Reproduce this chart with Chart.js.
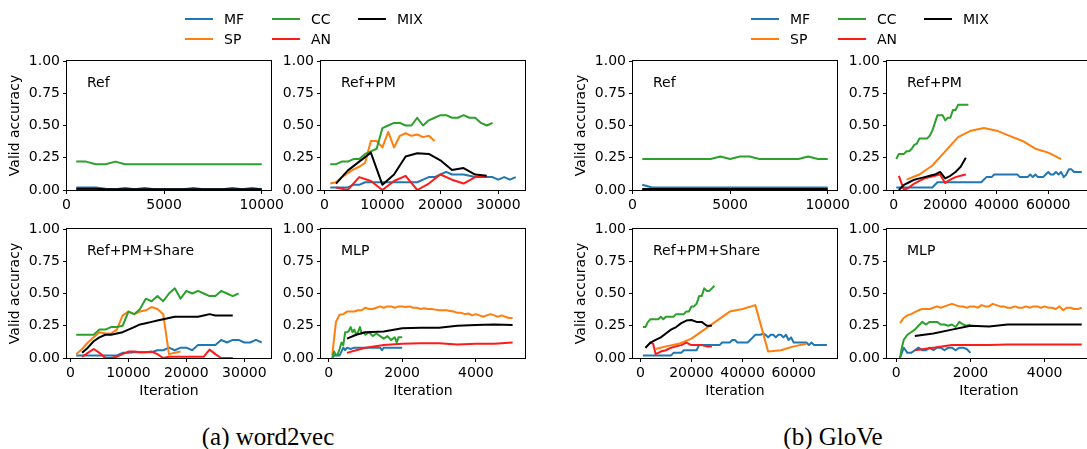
<!DOCTYPE html>
<html><head><meta charset="utf-8">
<script src="https://cdn.jsdelivr.net/npm/chart.js@4.4.0/dist/chart.umd.min.js"></script>
<style>
html,body{margin:0;padding:0;width:1087px;height:449px;overflow:hidden;background:#fff;position:relative;}
canvas{position:absolute;}
.lbl{position:absolute;font-family:'DejaVu Sans';font-size:14px;line-height:14px;color:#000;white-space:nowrap;}
.legline{position:absolute;height:2px;width:28px;}
.cap{position:absolute;font-family:'Liberation Serif';font-size:25px;line-height:25px;color:#000;white-space:nowrap;transform:translateX(-50%);}
</style></head><body>
<script>
// ---------- tick labels ----------
const yTicks = [0, 0.25, 0.5, 0.75, 1];
const xTicksRef = [0, 5000, 10000];
const xTicksW2vLong = [0, 10000, 20000, 30000];
const xTicksGloveLong = [0, 20000, 40000, 60000];
const xTicksMlp = [0, 2000, 4000];

// ---------- series names / colours ----------
const seriesNames = ['MF', 'SP', 'CC', 'AN', 'MIX'];
const seriesColors = {MF:'#1f77b4', SP:'#ff7f0e', CC:'#2ca02c', AN:'#ff1a1a', MIX:'#000000'};

// ---------- shared iteration grids ----------
const ref_x = [500,1000,1500,2000,2500,3000,3500,4000,4500,5000,5500,6000,6500,7000,7500,8000,8500,9000,9500,10000];
const k19_x = [1000,2000,3000,4000,5000,6000,7000,8000,9000,10000,11000,12000,13000,14000,15000,16000,17000,18000,19000];
const k29_x = [1000,2000,3000,4000,5000,6000,7000,8000,9000,10000,11000,12000,13000,14000,15000,16000,17000,18000,19000,20000,21000,22000,23000,24000,25000,26000,27000,28000,29000];
const k33_x = [1000,2000,3000,4000,5000,6000,7000,8000,9000,10000,11000,12000,13000,14000,15000,16000,17000,18000,19000,20000,21000,22000,23000,24000,25000,26000,27000,28000,29000,30000,31000,32000,33000];
const k2by2_x = [2000,4000,6000,8000,10000,12000,14000,16000,18000,20000,22000,24000,26000,28000];
const k2to28_x = [2000,3000,4000,5000,6000,7000,8000,9000,10000,11000,12000,13000,14000,15000,16000,17000,18000,19000,20000,21000,22000,23000,24000,25000,26000,27000,28000];
const mlp_x = [100,200,300,400,500,600,700,800,900,1000,1100,1200,1300,1400,1500,1600,1700,1800,1900,2000,2100,2200,2300,2400,2500,2600,2700,2800,2900,3000,3100,3200,3300,3400,3500,3600,3700,3800,3900,4000,4100,4200,4300,4400,4500,4600,4700,4800,4900,5000];

// ---------- (a) word2vec : Ref ----------
const w2v_ref_MF  = [0.02,0.02,0.02,0.01,0.005,0.015,0.005,0.015,0.005,0.005,0.005,0.005,0.015,0.005,0.005,0.005,0.015,0.005,0.015,0.005];
const w2v_ref_CC  = [0.22,0.22,0.20,0.20,0.22,0.20,0.20,0.20,0.20,0.20,0.20,0.20,0.20,0.20,0.20,0.20,0.20,0.20,0.20,0.20];
const w2v_ref_AN  = [0,0,0,0,0,0,0,0,0,0,0,0,0,0,0,0,0,0,0,0];
const w2v_ref_MIX = [0.01,0.01,0.01,0.005,0.005,0.005,0.005,0.005,0.005,0.005,0.005,0.005,0.005,0.005,0.005,0.005,0.005,0.005,0.005,0.005];

// ---------- (a) word2vec : Ref+PM ----------
const w2v_pm_MF  = [0.02,0.02,0.02,0.02,0.04,0.04,0.06,0.06,0.06,0.06,0.06,0.06,0.06,0.06,0.06,0.06,0.08,0.10,0.10,0.12,0.14,0.12,0.12,0.12,0.11,0.10,0.10,0.10,0.10,0.08,0.10,0.08,0.10];
const w2v_pm_SP  = [0.05,0.06,0.10,0.13,0.16,0.18,0.21,0.38,0.38,0.33,0.45,0.33,0.42,0.44,0.42,0.43,0.41,0.42,0.38];
const w2v_pm_CC  = [0.20,0.20,0.22,0.22,0.24,0.24,0.28,0.30,0.32,0.48,0.50,0.52,0.52,0.50,0.50,0.56,0.50,0.54,0.56,0.58,0.58,0.56,0.56,0.58,0.56,0.56,0.52,0.50,0.52];
const w2v_pm_AN  = [0.02,0.0,0.10,0.07,0.0,0.07,0.11,0.0,0.05,0.12,0.08,0.05,0.10,0.10];
const w2v_pm_MIX = [0.05,0.15,0.22,0.29,0.04,0.12,0.26,0.285,0.28,0.23,0.155,0.17,0.12,0.11];

// ---------- (a) word2vec : Ref+PM+Share ----------
const w2v_sh_MF  = [0.02,0.02,0.02,0.02,0.02,0.02,0.02,0.02,0.04,0.04,0.045,0.045,0.045,0.045,0.06,0.06,0.08,0.06,0.08,0.08,0.06,0.10,0.10,0.10,0.10,0.14,0.12,0.14,0.14,0.12,0.12,0.14,0.12];
const w2v_sh_SP  = [0.03,0.07,0.12,0.16,0.20,0.19,0.19,0.22,0.33,0.36,0.34,0.36,0.37,0.395,0.38,0.34,0.03,0.04,0.05];
const w2v_sh_CC  = [0.18,0.18,0.18,0.18,0.22,0.22,0.24,0.24,0.25,0.36,0.34,0.38,0.46,0.44,0.48,0.44,0.50,0.54,0.46,0.52,0.50,0.52,0.50,0.48,0.48,0.52,0.50,0.48,0.50];
const w2v_sh_AN  = [0.01,0.04,0.07,0.04,0.0,0.0,0.01,0.03,0.05,0.05,0.045,0.045,0.05,0.03,0.0,0.01,0.01,0.01,0.01,0.01,0.01,0.01,0.065,0.03,0.0,0.0,0.0];
const w2v_sh_MIX = [0.04,0.08,0.13,0.16,0.18,0.18,0.19,0.20,0.22,0.24,0.26,0.27,0.28,0.29,0.30,0.31,0.32,0.32,0.32,0.32,0.32,0.33,0.34,0.33,0.33,0.33,0.33];

// ---------- (a) word2vec : MLP ----------
const w2v_mlp_MF_x = [100,150,200,300,400,450,500,600,700,800,1000,1200,1400,1450,1500,1550,1700,2000];
const w2v_mlp_MF   = [0.0,0.02,0.02,0.02,0.08,0.06,0.08,0.07,0.08,0.08,0.08,0.08,0.08,0.06,0.08,0.08,0.08,0.08];
const w2v_mlp_SP   = [0.02,0.28,0.335,0.34,0.36,0.36,0.36,0.37,0.37,0.39,0.38,0.38,0.39,0.40,0.39,0.40,0.40,0.39,0.40,0.40,0.395,0.40,0.39,0.39,0.38,0.385,0.38,0.38,0.375,0.37,0.37,0.37,0.365,0.36,0.35,0.35,0.34,0.345,0.33,0.34,0.33,0.32,0.33,0.34,0.33,0.32,0.33,0.32,0.31,0.31];
const w2v_mlp_CC_x = [100,150,200,250,300,350,400,450,500,550,600,650,700,750,800,850,900,950,1000,1100,1200,1300,1400,1500,1600,1700,1800,1850,1900,2000];
const w2v_mlp_CC   = [0.0,0.05,0.02,0.03,0.07,0.12,0.10,0.20,0.20,0.21,0.24,0.20,0.22,0.18,0.20,0.24,0.19,0.20,0.18,0.20,0.17,0.19,0.17,0.15,0.17,0.14,0.16,0.12,0.16,0.16];
const w2v_mlp_x2   = [500,750,1000,1500,2000,2500,3000,3500,4000,4500,5000];
const w2v_mlp_AN   = [0.04,0.06,0.08,0.10,0.11,0.115,0.115,0.105,0.11,0.11,0.12];
const w2v_mlp_MIX  = [0.15,0.18,0.20,0.205,0.23,0.235,0.235,0.25,0.255,0.26,0.255];

// ---------- (b) GloVe : Ref ----------
const glove_ref_MF  = [0.04,0.02,0.02,0.02,0.02,0.02,0.02,0.02,0.02,0.02,0.02,0.02,0.02,0.02,0.02,0.02,0.02,0.02,0.02,0.02];
const glove_ref_CC  = [0.24,0.24,0.24,0.24,0.24,0.24,0.24,0.24,0.26,0.24,0.26,0.26,0.24,0.24,0.24,0.24,0.24,0.26,0.24,0.24];
const glove_ref_AN  = [0,0,0,0,0,0,0,0,0,0,0,0,0,0,0,0,0,0,0,0];
const glove_ref_MIX = [0.008,0.008,0.008,0.008,0.008,0.008,0.008,0.008,0.008,0.008,0.008,0.008,0.008,0.008,0.008,0.008,0.008,0.008,0.008,0.008];

// ---------- (b) GloVe : Ref+PM ----------
const glove_pm_MF_x = [1000,15000,17000,34000,36000,38000,39000,48000,49000,52000,53000,54000,55000,56000,58000,59000,60000,61000,62000,63000,64000,65000,66000,67000,68000,69000,70000,71000,73000];
const glove_pm_MF   = [0.02,0.02,0.06,0.06,0.10,0.10,0.12,0.12,0.10,0.10,0.12,0.10,0.12,0.10,0.10,0.12,0.14,0.12,0.12,0.14,0.12,0.14,0.10,0.12,0.16,0.16,0.14,0.14,0.14];
const glove_pm_SP_x = [5000,10000,15000,20000,25000,30000,35000,40000,45000,50000,55000,60000,65000];
const glove_pm_SP   = [0.08,0.12,0.19,0.30,0.41,0.46,0.48,0.46,0.42,0.38,0.32,0.29,0.24];
const glove_pm_CC   = [0.24,0.28,0.28,0.28,0.30,0.30,0.32,0.35,0.36,0.40,0.40,0.40,0.40,0.42,0.46,0.52,0.58,0.58,0.58,0.54,0.56,0.56,0.62,0.62,0.66,0.66,0.66,0.66,0.66];
const glove_pm_AN   = [0.11,0.0,0.02,0.05,0.07,0.09,0.10,0.11,0.12,0.055,0.08,0.10,0.11,0.12];
const glove_pm_MIX  = [0.0,0.04,0.06,0.08,0.09,0.10,0.11,0.12,0.14,0.09,0.11,0.14,0.18,0.25];

// ---------- (b) GloVe : Ref+PM+Share ----------
const glove_sh_MF_x = [1000,12000,13000,16000,17000,22000,23000,31000,32000,35000,36000,37000,38000,42000,43000,44000,45000,47000,48000,49000,50000,51000,52000,53000,54000,55000,56000,57000,58000,59000,60000,65000,66000,67000,68000,73000];
const glove_sh_MF   = [0.02,0.02,0.04,0.04,0.06,0.06,0.10,0.10,0.12,0.12,0.14,0.14,0.12,0.12,0.14,0.16,0.18,0.18,0.19,0.18,0.16,0.18,0.18,0.16,0.18,0.18,0.16,0.18,0.14,0.16,0.12,0.12,0.10,0.12,0.10,0.10];
const glove_sh_SP_x = [6000,10000,15000,20000,25000,30000,35000,40000,45000,50000,55000,60000,65000];
const glove_sh_SP   = [0.07,0.09,0.11,0.15,0.22,0.29,0.36,0.38,0.41,0.05,0.06,0.09,0.11];
const glove_sh_CC   = [0.24,0.24,0.28,0.30,0.30,0.30,0.30,0.32,0.30,0.32,0.32,0.32,0.32,0.34,0.34,0.34,0.34,0.36,0.36,0.40,0.40,0.42,0.48,0.48,0.54,0.52,0.52,0.54,0.56];
const glove_sh_AN_x = [2000,3000,4000,5000,6000,8000,10000,12000,14000,16000,18000,20000,22000,24000,26000,28000];
const glove_sh_AN   = [0.08,0.10,0.12,0.11,0.03,0.05,0.06,0.08,0.09,0.10,0.12,0.10,0.10,0.10,0.09,0.09];
const glove_sh_MIX_x = [2000,3000,4000,6000,8000,10000,12000,14000,16000,18000,20000,22000,24000,26000,28000];
const glove_sh_MIX   = [0.08,0.10,0.12,0.14,0.16,0.19,0.22,0.24,0.27,0.29,0.295,0.28,0.28,0.25,0.25];

// ---------- (b) GloVe : MLP ----------
const glove_mlp_MF_x = [100,150,200,250,300,400,500,600,700,800,900,1000,1100,1200,1300,1400,1500,1600,1700,1800,1900,2000];
const glove_mlp_MF   = [0.0,0.04,0.08,0.06,0.04,0.04,0.06,0.08,0.06,0.06,0.08,0.06,0.08,0.08,0.06,0.08,0.08,0.06,0.08,0.08,0.07,0.04];
const glove_mlp_SP   = [0.27,0.31,0.33,0.34,0.355,0.37,0.38,0.38,0.38,0.39,0.40,0.39,0.40,0.41,0.42,0.41,0.40,0.40,0.39,0.40,0.40,0.39,0.41,0.40,0.40,0.42,0.41,0.40,0.40,0.39,0.39,0.40,0.39,0.39,0.40,0.39,0.40,0.40,0.39,0.40,0.39,0.39,0.38,0.40,0.37,0.39,0.39,0.38,0.38,0.39];
const glove_mlp_CC_x = [100,150,200,300,400,500,600,700,800,900,1000,1100,1200,1300,1400,1500,1600,1700,1800,1900,2000];
const glove_mlp_CC   = [0.0,0.08,0.14,0.18,0.20,0.22,0.25,0.28,0.26,0.28,0.28,0.28,0.26,0.26,0.25,0.26,0.24,0.28,0.26,0.25,0.26];
const glove_mlp_x2   = [500,1000,1500,2000,2500,3000,3500,4000,4500,5000];
const glove_mlp_AN   = [0.06,0.08,0.10,0.10,0.10,0.105,0.105,0.105,0.105,0.105];
const glove_mlp_MIX  = [0.17,0.19,0.22,0.25,0.245,0.26,0.26,0.26,0.26,0.26];

// ---------- panels ----------
const PW = 204, PH = 129;
const panels = [
  {L:67,  T:61,  xmin:25,    xmax:10475, xt:xTicksRef,       title:'Ref',           ylab:true,  xlab:false,
   s:{MF:[ref_x,w2v_ref_MF], CC:[ref_x,w2v_ref_CC], AN:[ref_x,w2v_ref_AN], MIX:[ref_x,w2v_ref_MIX]}},
  {L:321, T:61,  xmin:-600,  xmax:34600, xt:xTicksW2vLong,   title:'Ref+PM',        ylab:false, xlab:false,
   s:{MF:[k33_x,w2v_pm_MF], SP:[k19_x,w2v_pm_SP], CC:[k29_x,w2v_pm_CC], AN:[k2by2_x,w2v_pm_AN], MIX:[k2by2_x,w2v_pm_MIX]}},
  {L:67,  T:229, xmin:-600,  xmax:34600, xt:xTicksW2vLong,   title:'Ref+PM+Share',  ylab:true,  xlab:true,
   s:{MF:[k33_x,w2v_sh_MF], SP:[k19_x,w2v_sh_SP], CC:[k29_x,w2v_sh_CC], AN:[k2to28_x,w2v_sh_AN], MIX:[k2to28_x,w2v_sh_MIX]}},
  {L:321, T:229, xmin:-206,  xmax:5337,  xt:xTicksMlp,       title:'MLP',           ylab:false, xlab:true,
   s:{MF:[w2v_mlp_MF_x,w2v_mlp_MF], SP:[mlp_x,w2v_mlp_SP], CC:[w2v_mlp_CC_x,w2v_mlp_CC], AN:[w2v_mlp_x2,w2v_mlp_AN], MIX:[w2v_mlp_x2,w2v_mlp_MIX]}},
  {L:633, T:61,  xmin:25,    xmax:10475, xt:xTicksRef,       title:'Ref',           ylab:true,  xlab:false,
   s:{MF:[ref_x,glove_ref_MF], CC:[ref_x,glove_ref_CC], AN:[ref_x,glove_ref_AN], MIX:[ref_x,glove_ref_MIX]}},
  {L:887, T:61,  xmin:-2600, xmax:76600, xt:xTicksGloveLong, title:'Ref+PM',        ylab:false, xlab:false,
   s:{MF:[glove_pm_MF_x,glove_pm_MF], SP:[glove_pm_SP_x,glove_pm_SP], CC:[k29_x,glove_pm_CC], AN:[k2by2_x,glove_pm_AN], MIX:[k2by2_x,glove_pm_MIX]}},
  {L:633, T:229, xmin:-2870, xmax:76950, xt:xTicksGloveLong, title:'Ref+PM+Share',  ylab:true,  xlab:true,
   s:{MF:[glove_sh_MF_x,glove_sh_MF], SP:[glove_sh_SP_x,glove_sh_SP], CC:[k29_x,glove_sh_CC], AN:[glove_sh_AN_x,glove_sh_AN], MIX:[glove_sh_MIX_x,glove_sh_MIX]}},
  {L:887, T:229, xmin:-250,  xmax:5250,  xt:xTicksMlp,       title:'MLP',           ylab:false, xlab:true,
   s:{MF:[glove_mlp_MF_x,glove_mlp_MF], SP:[mlp_x,glove_mlp_SP], CC:[glove_mlp_CC_x,glove_mlp_CC], AN:[glove_mlp_x2,glove_mlp_AN], MIX:[glove_mlp_x2,glove_mlp_MIX]}}
];

Chart.defaults.font.family = "'DejaVu Sans'";
Chart.defaults.font.size = 14;
Chart.defaults.color = '#000';

const framePlugin = {
  id: 'frame',
  afterDraw(c) {
    const a = c.chartArea, ctx = c.ctx;
    ctx.save();
    ctx.strokeStyle = '#000';
    ctx.lineWidth = 1;
    ctx.strokeRect(a.left - 0.5, a.top - 0.5, a.right - a.left + 1, a.bottom - a.top + 1);
    ctx.restore();
  }
};

const YW = 67, PADT = 12, PADR = 30;
panels.forEach(p => {
  const xh = p.xlab ? 44 : 30;
  const cv = document.createElement('canvas');
  cv.width = YW + PW + PADR;
  cv.height = PADT + PH + xh;
  cv.style.left = (p.L - YW) + 'px';
  cv.style.top = (p.T - PADT) + 'px';
  document.body.appendChild(cv);

  const datasets = [];
  seriesNames.forEach((n, i) => {
    if (!p.s[n]) return;
    const [xs, ys] = p.s[n];
    datasets.push({
      label: n,
      data: xs.map((x, k) => ({x: x, y: ys[k]})),
      borderColor: seriesColors[n],
      backgroundColor: seriesColors[n],
      borderWidth: 2,
      pointRadius: 0,
      pointHoverRadius: 0,
      fill: false,
      tension: 0,
      clip: 0,
      borderJoinStyle: 'round',
      order: seriesNames.length - i
    });
  });

  new Chart(cv, {
    type: 'line',
    data: {datasets},
    options: {
      responsive: false,
      animation: false,
      events: [],
      layout: {padding: {left: 0, top: PADT, right: PADR, bottom: 0}},
      plugins: {legend: {display: false}, tooltip: {enabled: false}},
      scales: {
        x: {
          type: 'linear', min: p.xmin, max: p.xmax,
          afterBuildTicks: ax => { ax.ticks = p.xt.map(v => ({value: v})); },
          afterFit: s => { s.height = xh; s.paddingLeft = 0; s.paddingRight = 0; },
          grid: {display: true, drawOnChartArea: false, drawTicks: true, tickLength: 4, color: '#000', lineWidth: 1},
          border: {display: false},
          ticks: {padding: 3, color: '#000', maxRotation: 0, autoSkip: false, callback: v => String(v)},
          title: {display: p.xlab, text: 'Iteration', color: '#000', padding: {top: 0, bottom: 2}}
        },
        y: {
          type: 'linear', min: 0, max: 1,
          afterBuildTicks: ax => { ax.ticks = yTicks.map(v => ({value: v})); },
          afterFit: s => { s.width = YW; s.paddingTop = 0; s.paddingBottom = 0; },
          grid: {display: true, drawOnChartArea: false, drawTicks: true, tickLength: 4, color: '#000', lineWidth: 1},
          border: {display: false},
          ticks: {padding: 3, color: '#000', autoSkip: false, callback: v => Number(v).toFixed(2)},
          title: {display: p.ylab, text: 'Valid accuracy', color: '#000', padding: {top: 6.5, bottom: 0}}
        }
      }
    },
    plugins: [framePlugin]
  });

  const t = document.createElement('div');
  t.className = 'lbl';
  t.style.left = (p.L + 20) + 'px';
  t.style.top = (p.T + 14) + 'px';
  t.textContent = p.title;
  document.body.appendChild(t);
});

// ---------- legends (matplotlib-style, 3 columns) ----------
const legendCols = [['MF','SP'], ['CC','AN'], ['MIX']];
const legendColX = [0, 87, 173];
[185, 751].forEach(x0 => {
  legendCols.forEach((col, ci) => {
    col.forEach((n, ri) => {
      const cy = 19 + ri * 20;
      const ln = document.createElement('div');
      ln.className = 'legline';
      ln.style.left = (x0 + legendColX[ci]) + 'px';
      ln.style.top = (cy - 1) + 'px';
      ln.style.background = seriesColors[n];
      document.body.appendChild(ln);
      const tx = document.createElement('div');
      tx.className = 'lbl';
      tx.style.left = (x0 + legendColX[ci] + 39) + 'px';
      tx.style.top = (cy - 7) + 'px';
      tx.textContent = n;
      document.body.appendChild(tx);
    });
  });
});

// ---------- captions ----------
[['(a) word2vec', 268], ['(b) GloVe', 833]].forEach(([txt, cx]) => {
  const d = document.createElement('div');
  d.className = 'cap';
  d.style.left = cx + 'px';
  d.style.top = '424px';
  d.textContent = txt;
  document.body.appendChild(d);
});
</script>
</body></html>
